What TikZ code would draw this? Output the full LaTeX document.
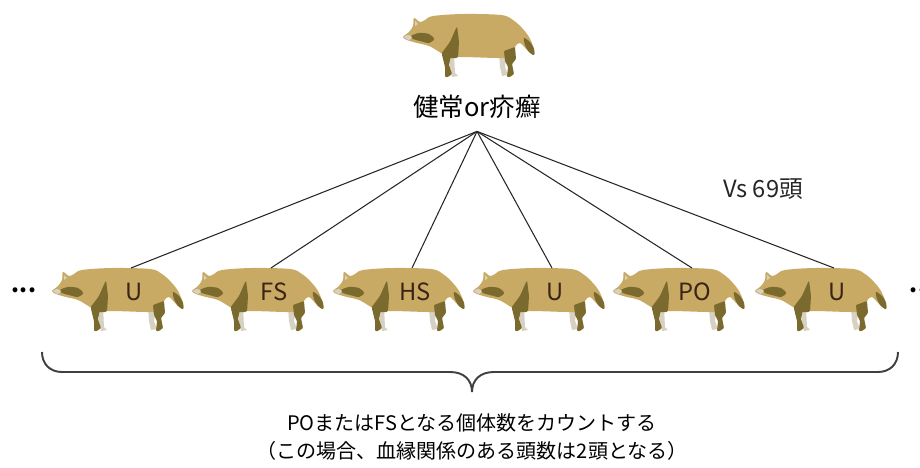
\documentclass[tikz,border=0pt]{standalone}
\usepackage{fontspec}
\setmainfont{Noto Sans CJK JP}
\usepackage{xcolor}
\usepackage{tikz}
\definecolor{furTan}{RGB}{200, 170, 100}
\definecolor{furDark}{RGB}{122, 106, 46}
\definecolor{furGray}{RGB}{214, 209, 194}
\definecolor{tagBrown}{RGB}{58, 36, 22}
\definecolor{braceGray}{RGB}{64, 64, 64}

\tikzset{
    pics/tanuki/.style={code={
        % far legs
        \fill[furGray] (45,16) -- (51,16) -- (52,36) -- (55,39) -- (49,40) -- (47,30) -- cycle;
        \fill[furGray] (96,16) -- (104,16) -- (102,30) -- (105,38) -- (99,39) -- (97,30) -- cycle;
        % body
        \fill[furTan] plot[smooth cycle, tension=0.55] coordinates {
            (0,0) (6,-5) (10,-11) (11,-19) (17,-15) (22,-17) (30,-21) (60,-23)
            (98,-22) (110,-17) (119,-9) (126,0) (131,12) (131,18) (125,14)
            (117,6) (112,10) (110,20) (95,21) (60,20) (46,21) (38,16) (26,9)
            (14,6) (4,3)};
        % face mask and snout
        \fill[furDark] plot[smooth cycle] coordinates {(8,-1) (16,-4) (26,-3) (31,2) (26,6) (17,4) (10,2)};
        \fill[furGray] plot[smooth cycle] coordinates {(1,0) (5,-2) (9,0) (6,3)};
        \fill[furGray] (12,-16) -- (15,-13) -- (12,-11) -- cycle;
        % shoulder and near legs
        \fill[furDark, rounded corners=1pt] (54,-11) -- (56,5) -- (55,21) -- (41,21) -- (38,17) -- (47,5) -- cycle;
        \fill[furDark, rounded corners=0.5pt] (39,17) -- (48,18) -- (46,28) -- (49,37) -- (45,40) -- (42,40) -- (42,30) -- (40,22) -- cycle;
        \fill[furDark, rounded corners=0.5pt] (101,14) -- (112,10) -- (113,22) -- (109,27) -- (111,37) -- (107,40) -- (104,40) -- (105,30) -- (102,24) -- cycle;
        % tail tip
        \fill[furDark] plot[smooth cycle] coordinates {(121,1) (127,5) (131,12) (131,18) (126,15) (122,8)};
        \coordinate (-top) at (79,-23);
        \coordinate (-mid) at (82,1);
    }}
}

\begin{document}
\begin{tikzpicture}[
    x=0.02cm, y=-0.02cm,
    rootlabel/.style={font=\fontsize{14.5}{17}\selectfont, inner sep=1pt},
    note/.style={font=\fontsize{13.5}{16}\selectfont, text=black!85},
    tag/.style={font=\fontsize{13.5}{15}\selectfont, text=tagBrown},
    dots/.style={font=\bfseries\fontsize{13}{15}\selectfont},
    caption/.style={font=\fontsize{11.4}{16.4}\selectfont, align=center},
    link/.style={line width=0.6pt, black!85},
    bracket/.style={line width=1.1pt, braceGray}
]
    \useasboundingbox (0,0) rectangle (920,467);

    % Parent
    \pic (top) at (403,37) {tanuki};
    \node[rootlabel] (root) at (477,107) {健常or疥癬};
    \coordinate (hub) at ([yshift=-6pt]root.south);

    % Candidates
    \pic (a1) at (52,291) {tanuki};
    \pic (a2) at (192,291) {tanuki};
    \pic (a3) at (333,291) {tanuki};
    \pic (a4) at (473,291) {tanuki};
    \pic (a5) at (613,291) {tanuki};
    \pic (a6) at (755,291) {tanuki};
    \node[tag] (t1) at (a1-mid) {U};
    \node[tag] (t2) at (a2-mid) {FS};
    \node[tag] (t3) at (a3-mid) {HS};
    \node[tag] (t4) at (a4-mid) {U};
    \node[tag] (t5) at (a5-mid) {PO};
    \node[tag] (t6) at (a6-mid) {U};
    \node[note] (vs) at (763,189) {Vs 69頭};
    \node[dots] (dl) at (24,290) {...};
    \node[dots] (dr) at (922,290) {...};

    % Connections
    \draw[link] (hub) -- (a1-top);
    \draw[link] (hub) -- (a2-top);
    \draw[link] (hub) -- (a3-top);
    \draw[link] (hub) -- (a4-top);
    \draw[link] (hub) -- (a5-top);
    \draw[link] (hub) -- (a6-top);

    % Brace and caption
    \coordinate (bl) at (42,352);
    \coordinate (br) at (898,352);
    \draw[bracket] (bl) .. controls (42,364) and (50,372) .. (62,372) -- (450,372)
        .. controls (464,372) and (472,380) .. (472,392)
        .. controls (472,380) and (480,372) .. (494,372) -- (878,372)
        .. controls (890,372) and (898,364) .. (br);
    \node[caption] (cap) at (472,437) {POまたはFSとなる個体数をカウントする\\（この場合、血縁関係のある頭数は2頭となる）};
\end{tikzpicture}
\end{document}
